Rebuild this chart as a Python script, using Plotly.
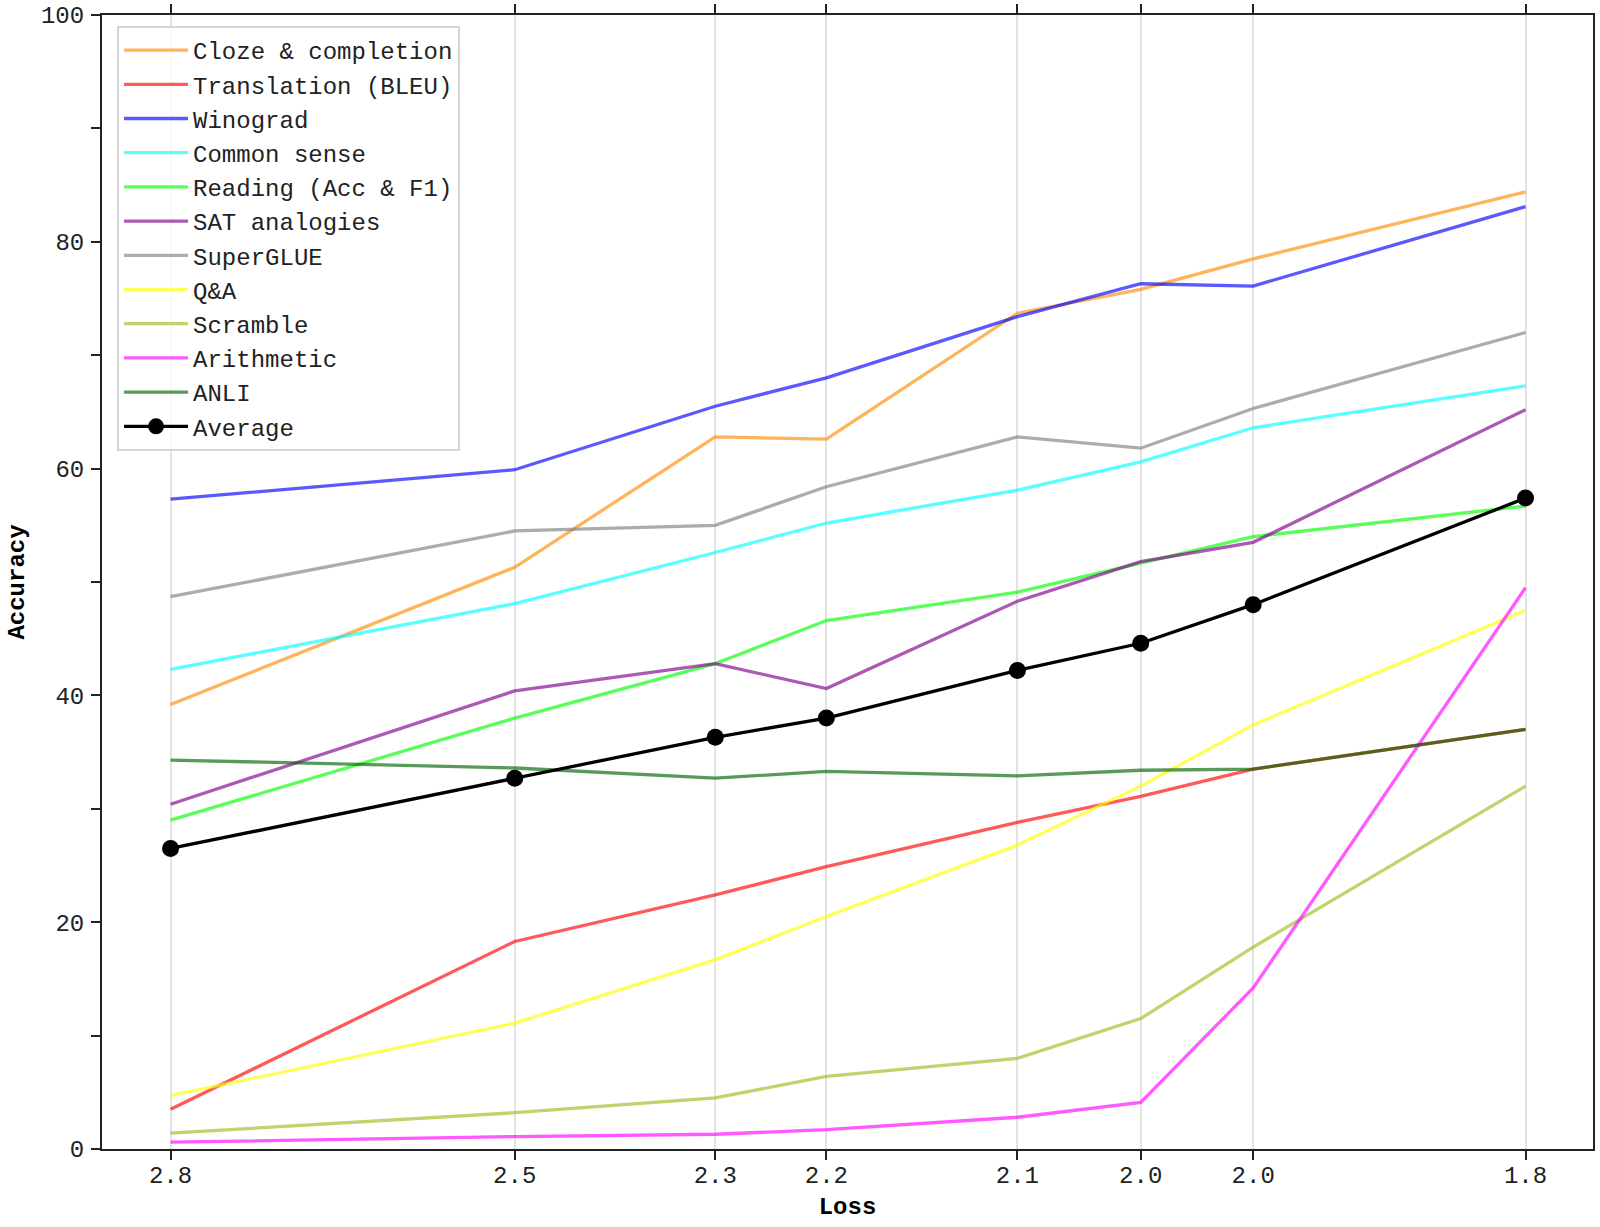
import plotly.graph_objects as go

loss_axis = [2.800, 2.546, 2.398, 2.316, 2.175, 2.084, 2.001, 1.800]
loss_labels = ["2.8", "2.5", "2.3", "2.2", "2.1", "2.0", "2.0", "1.8"]

cloze = [39.2, 51.3, 62.8, 62.6, 73.7, 75.8, 78.5, 84.4]
translation = [3.5, 18.3, 22.4, 24.9, 28.8, 31.1, 33.5, 37.0]
winograd = [57.3, 59.9, 65.5, 68.0, 73.4, 76.3, 76.1, 83.1]
common_sense = [42.3, 48.1, 52.6, 55.2, 58.1, 60.6, 63.6, 67.3]
reading = [29.0, 38.0, 42.8, 46.6, 49.1, 51.7, 54.0, 56.7]
sat = [30.4, 40.4, 42.8, 40.6, 48.3, 51.8, 53.5, 65.2]
superglue = [48.7, 54.5, 55.0, 58.4, 62.8, 61.8, 65.3, 72.0]
qa = [4.7, 11.1, 16.7, 20.5, 26.8, 32.0, 37.4, 47.5]
scramble = [1.4, 3.2, 4.5, 6.4, 8.0, 11.5, 17.8, 32.0]
arithmetic = [0.6, 1.1, 1.3, 1.7, 2.8, 4.1, 14.2, 49.5]
anli = [34.3, 33.6, 32.7, 33.3, 32.9, 33.4, 33.5, 37.0]
average = [26.5, 32.7, 36.3, 38.0, 42.2, 44.6, 48.0, 57.4]

series = [
    ("Cloze & completion", cloze, "rgba(255,140,0,0.65)"),
    ("Translation (BLEU)", translation, "rgba(255,0,0,0.65)"),
    ("Winograd", winograd, "rgba(0,0,255,0.65)"),
    ("Common sense", common_sense, "rgba(0,255,255,0.65)"),
    ("Reading (Acc & F1)", reading, "rgba(0,255,0,0.65)"),
    ("SAT analogies", sat, "rgba(128,0,140,0.65)"),
    ("SuperGLUE", superglue, "rgba(128,128,128,0.65)"),
    ("Q&A", qa, "rgba(255,255,0,0.65)"),
    ("Scramble", scramble, "rgba(154,190,30,0.65)"),
    ("Arithmetic", arithmetic, "rgba(255,0,255,0.65)"),
    ("ANLI", anli, "rgba(0,100,0,0.65)"),
]

font_family = "Courier New, Liberation Mono, monospace"

fig = go.Figure()
for name, values, color in series:
    fig.add_trace(go.Scatter(
        x=loss_axis, y=values, name=name, mode="lines",
        line=dict(color=color, width=3.3),
    ))

fig.add_trace(go.Scatter(
    x=loss_axis, y=average, name="Average", mode="lines+markers",
    line=dict(color="black", width=3.3),
    marker=dict(color="black", size=17),
))

fig.update_layout(
    width=1600,
    height=1227,
    margin=dict(l=102, r=7, t=15, b=78),
    paper_bgcolor="white",
    plot_bgcolor="white",
    font=dict(family=font_family, size=24, color="#222222"),
    legend=dict(
        x=0.0101, y=0.9903, xanchor="left", yanchor="top",
        bgcolor="rgba(255,255,255,0.8)",
        bordercolor="#d4d4d4", borderwidth=2,
        font=dict(family=font_family, size=24, color="#222222"),
        itemwidth=64,
        tracegroupgap=0,
    ),
)

fig.update_xaxes(
    range=[2.8506, 1.7502],
    tickvals=loss_axis,
    ticktext=loss_labels,
    showgrid=True, gridcolor="#e3e3e3", gridwidth=1.5,
    zeroline=False,
    showline=True, linecolor="#222222", linewidth=2, mirror="ticks",
    ticks="outside", ticklen=9, tickwidth=2, tickcolor="#222222",
    ticklabelstandoff=-6,
    title=dict(text="<b>Loss</b>", standoff=8,
               font=dict(family=font_family, size=24, color="black")),
    automargin=False,
)

fig.update_yaxes(
    range=[0, 100],
    tickvals=[0, 20, 40, 60, 80, 100],
    showgrid=False,
    zeroline=False,
    showline=True, linecolor="#222222", linewidth=2, mirror=True,
    ticks="outside", ticklen=9, tickwidth=2, tickcolor="#222222",
    minor=dict(dtick=10, ticks="outside", ticklen=9, tickwidth=2,
               tickcolor="#222222", showgrid=False),
    ticklabelstandoff=2,
    title=dict(text="<b>Accuracy</b>", standoff=10,
               font=dict(family=font_family, size=24, color="black")),
    automargin=False,
)

# drop the page's default body margin so the figure sits at the window corner
fig.write_html("out.html", config={"displayModeBar": False},
               post_script="document.body.style.margin = '0';")
